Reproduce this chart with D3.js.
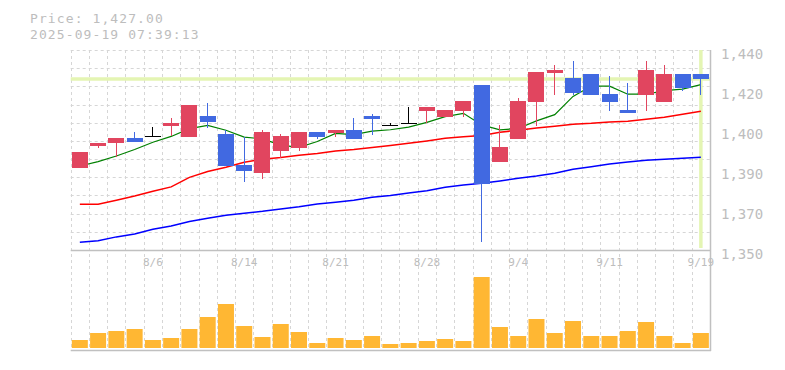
<!DOCTYPE html>
<html>
<head>
<meta charset="utf-8">
<script src="https://cdn.jsdelivr.net/npm/d3@7"></script>
<style>
  html, body { margin: 0; padding: 0; background: #fff; }
  svg { display: block; }
  text { font-family: "DejaVu Sans Mono", "Liberation Mono", monospace; fill: #bdbdbd; }
</style>
</head>
<body>
<svg id="chart" width="785" height="370"></svg>
<script>
const dates = ["7/31","8/1","8/4","8/5","8/6","8/7","8/8","8/12","8/13","8/14","8/15","8/18","8/19","8/20","8/21","8/22","8/25","8/26","8/27","8/28","8/29","9/1","9/2","9/3","9/4","9/5","9/8","9/9","9/10","9/11","9/12","9/16","9/17","9/18","9/19"];
const openP  = [1387,1397,1398,1400.4,1401.3,1406,1401,1410.3,1402.2,1388.3,1384.8,1394.7,1396,1403.1,1402.6,1404,1410.3,1406.2,1407,1412.7,1410,1412.7,1424.2,1389.8,1400.1,1416.8,1429.8,1427.4,1429.2,1420.2,1413,1419.9,1416.8,1429.2,1429.2];
const highP  = [1394.3,1398.2,1400.4,1403,1405.3,1409.4,1415.3,1416,1403.9,1400.7,1404,1402.2,1403.1,1403.1,1404,1409.4,1411.2,1407.1,1414.4,1414.4,1413,1417,1424.2,1406.2,1418.4,1430.1,1433.2,1435,1429.2,1428.3,1425.1,1435,1433.2,1429.2,1429.2];
const lowP   = [1387,1396,1392,1398.8,1401.3,1401.3,1401,1405,1388,1380.8,1382.1,1391.3,1394.7,1400,1401,1400.1,1401.9,1406.2,1407,1407.1,1410,1410,1353.8,1389.8,1400.1,1406,1419.9,1419.9,1419.9,1412.7,1411.8,1412.7,1416.8,1421.7,1419.9];
const closeP = [1394,1398,1400.4,1398.8,1401.3,1407.2,1415.2,1407.8,1388,1385.7,1403.1,1401.3,1403.1,1401,1404,1400.1,1409.1,1406.2,1407,1414.4,1413,1417,1379.9,1396.4,1417,1430.1,1431,1420.8,1419.9,1416.8,1411.8,1431,1429.2,1423,1427];
const volume = [8,15,17,19,8,10,19,31,44,22,11,24,16,5,10,8,12,4,5,7,9,7,71,21,12,29,15,27,12,12,17,26,12,5,15];
const ma5  = [1387.8,1389.8,1392.3,1395.2,1398.5,1401.1,1404.6,1406.1,1403.9,1400.8,1400.0,1397.2,1396.2,1398.8,1402.5,1401.9,1403.5,1404.1,1405.3,1407.4,1410.0,1411.5,1406.3,1404.1,1404.7,1408.1,1410.9,1419.1,1423.8,1423.7,1420.1,1420.1,1421.7,1422.4,1424.4];
const ma25 = [1370.6,1370.6,1372.4,1374.3,1376.4,1378.4,1382.7,1385.3,1387.2,1389.5,1390.8,1391.6,1392.6,1393.4,1394.6,1395.2,1396.1,1397.0,1398.0,1399.1,1400.3,1401.0,1401.5,1403.0,1403.9,1404.9,1405.7,1406.6,1407.0,1407.6,1407.9,1408.8,1409.7,1411.1,1412.4];
const ma75 = [1353.5,1354.2,1355.9,1357.2,1359.3,1360.8,1362.8,1364.3,1365.6,1366.5,1367.4,1368.5,1369.5,1370.7,1371.5,1372.4,1373.7,1374.5,1375.7,1376.7,1378.2,1379.3,1380.0,1381.1,1382.3,1383.3,1384.5,1386.3,1387.5,1388.7,1389.6,1390.4,1390.8,1391.3,1391.7];
const xTickLabels = ["8/6","8/14","8/21","8/28","9/4","9/11","9/19"];
const yTickValues = [1440,1422,1404,1386,1368,1350];
const yTickLabels = ["1,440","1,420","1,400","1,390","1,370","1,350"];
const lastPrice = 1427;
const titleLines = ["Price: 1,427.00", "2025-09-19 07:39:13"];

const UP = "#e1455f", DOWN = "#4169e1", FLAT = "#000000";
const L = 70.7, R = 710, T = 50, B = 250, VT = 270, VB = 348, VAX = 350;

const svg = d3.select("#chart");
const x = d3.scaleBand().domain(dates).range([L, R]).padding(0);
const y = d3.scaleLinear().domain([1350, 1440]).range([B, T]);
const yv = d3.scaleLinear().domain([0, 78]).range([VB, VT]);
const bw = 16;
const cx = d => x(d) + x.bandwidth() / 2;

// grid
const grid = svg.append("g").attr("stroke", "#d6d6d6").attr("stroke-width", 1).attr("stroke-dasharray", "3,3");
const gridYs = d3.range(11).map(k => T + k * (B - T) / 11);
grid.selectAll("line.h").data(gridYs).join("line")
  .attr("x1", L).attr("x2", R).attr("y1", d => Math.round(d) + 0.5).attr("y2", d => Math.round(d) + 0.5);
grid.selectAll("line.v").data(dates).join("line")
  .attr("x1", d => Math.round(x(d)) + 0.5).attr("x2", d => Math.round(x(d)) + 0.5)
  .attr("y1", T).attr("y2", VAX);

// current price markers
svg.append("line").attr("x1", L).attr("x2", R).attr("y1", y(lastPrice)).attr("y2", y(lastPrice))
  .attr("stroke", "#e4f5b3").attr("stroke-width", 3.5);
svg.append("line").attr("x1", cx(dates[dates.length-1])).attr("x2", cx(dates[dates.length-1]))
  .attr("y1", T).attr("y2", B - 2)
  .attr("stroke", "#e4f5b3").attr("stroke-width", 3.5);

// axes frame
svg.append("line").attr("x1", L).attr("x2", R).attr("y1", B + 0.5).attr("y2", B + 0.5).attr("stroke", "#c0c0c0").attr("stroke-width", 1.5);
svg.append("line").attr("x1", L).attr("x2", R + 1).attr("y1", VAX + 0.5).attr("y2", VAX + 0.5).attr("stroke", "#c0c0c0").attr("stroke-width", 1.5);
svg.append("line").attr("x1", R + 0.5).attr("x2", R + 0.5).attr("y1", T).attr("y2", VAX + 1).attr("stroke", "#c0c0c0").attr("stroke-width", 1.5);

// moving averages
const idx = d3.range(dates.length);
const mkLine = arr => d3.line().x(i => cx(dates[i])).y(i => y(arr[i]));
svg.append("path").attr("d", mkLine(ma75)(idx)).attr("fill", "none").attr("stroke", "#0000ff").attr("stroke-width", 1.5);
svg.append("path").attr("d", mkLine(ma25)(idx)).attr("fill", "none").attr("stroke", "#ff0000").attr("stroke-width", 1.5);
svg.append("path").attr("d", mkLine(ma5)(idx)).attr("fill", "none").attr("stroke", "#008000").attr("stroke-width", 1.2);

// candles
const col = i => closeP[i] > openP[i] ? UP : (closeP[i] < openP[i] ? DOWN : FLAT);
const cg = svg.append("g").attr("shape-rendering", "crispEdges");
cg.selectAll("line.wick").data(idx).join("line")
  .attr("x1", i => Math.floor(cx(dates[i])) + 0.5).attr("x2", i => Math.floor(cx(dates[i])) + 0.5)
  .attr("y1", i => y(highP[i])).attr("y2", i => y(lowP[i]))
  .attr("stroke", col).attr("stroke-width", 1);
cg.selectAll("rect.body").data(idx).join("rect")
  .attr("x", i => cx(dates[i]) - bw / 2)
  .attr("width", bw)
  .attr("y", i => y(Math.max(openP[i], closeP[i])))
  .attr("height", i => Math.max(1, Math.abs(y(openP[i]) - y(closeP[i]))))
  .attr("fill", col);

// volume
svg.append("g").selectAll("rect").data(idx).join("rect")
  .attr("x", i => cx(dates[i]) - bw / 2)
  .attr("width", bw)
  .attr("y", i => yv(volume[i]))
  .attr("height", i => yv(0) - yv(volume[i]))
  .attr("fill", "#ffb733");

// y axis labels
const yAxis = d3.axisRight(y).tickValues(yTickValues).tickSize(0).tickPadding(11)
  .tickFormat((d, i) => yTickLabels[i]);
const ya = svg.append("g").attr("transform", `translate(${R},0)`).call(yAxis);
ya.select(".domain").remove();
ya.selectAll("text").attr("dy", "0.6em").style("font-size", "14px").attr("fill", "#bdbdbd")
  .style("font-family", "'DejaVu Sans Mono', monospace");

// x axis labels
const xAxis = d3.axisBottom(x).tickValues(xTickLabels).tickSize(0).tickPadding(8);
const xa = svg.append("g").attr("transform", `translate(0,${B})`).call(xAxis);
xa.select(".domain").remove();
xa.selectAll("text").style("font-size", "11px").attr("fill", "#bdbdbd")
  .style("font-family", "'DejaVu Sans Mono', monospace");

// title
svg.append("g").selectAll("text").data(titleLines).join("text")
  .attr("x", 30).attr("y", (d, i) => 23 + i * 15.5)
  .style("font-size", "13px").style("letter-spacing", "1.1px").text(d => d);
</script>
</body>
</html>
